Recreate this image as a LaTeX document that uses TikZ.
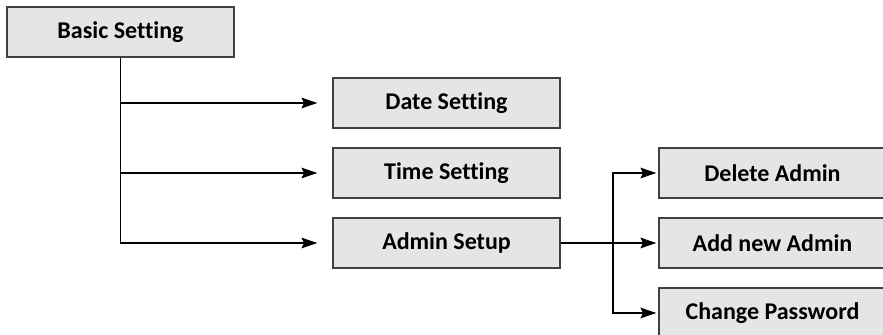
\documentclass[tikz,border=0pt]{standalone}
\usepackage{fontspec}
\setmainfont{Carlito}[Ligatures=NoCommon]
\usetikzlibrary{arrows.meta,positioning}

\begin{document}
\begin{tikzpicture}[x=0.75pt,y=-0.75pt,>={Stealth[length=12pt,width=8pt,inset=2pt]},
		line width=0.9pt,node distance=52.5pt,
		menu/.style={draw=black!75,fill=black!10,minimum width=170.25pt,
			minimum height=37.5pt,inner sep=0pt,font=\bfseries\fontsize{18}{20}\selectfont}]

		\clip (0,0) rectangle (883,335);

		\node[menu] (basic) at (120.5,32) {Basic Setting};
		\node[menu] (date) at (446.5,103) {Date Setting};
		\node[menu] (time) [below of=date] {Time Setting};
		\node[menu] (admin) [below of=time] {Admin Setup};
		\node[menu] (delete) at (772.5,173) {Delete Admin};
		\node[menu] (addnew) [below of=delete] {Add new Admin};
		\node[menu] (change) [below of=addnew] {Change Password};
		\coordinate (fork) at (613,243);

		\path[->,shorten >=11.25pt]
		(basic.south) edge[to path={|- (\tikztotarget)}] (date.west)
		(basic.south) edge[to path={|- (\tikztotarget)}] (time.west)
		(basic.south) edge[to path={|- (\tikztotarget)}] (admin.west);
		\path[->,shorten >=1.5pt]
		(admin.east) edge (addnew.west)
		(fork) edge[to path={|- (\tikztotarget)}] (delete.west)
		(fork) edge[to path={|- (\tikztotarget)}] (change.west);
	\end{tikzpicture}
\end{document}
